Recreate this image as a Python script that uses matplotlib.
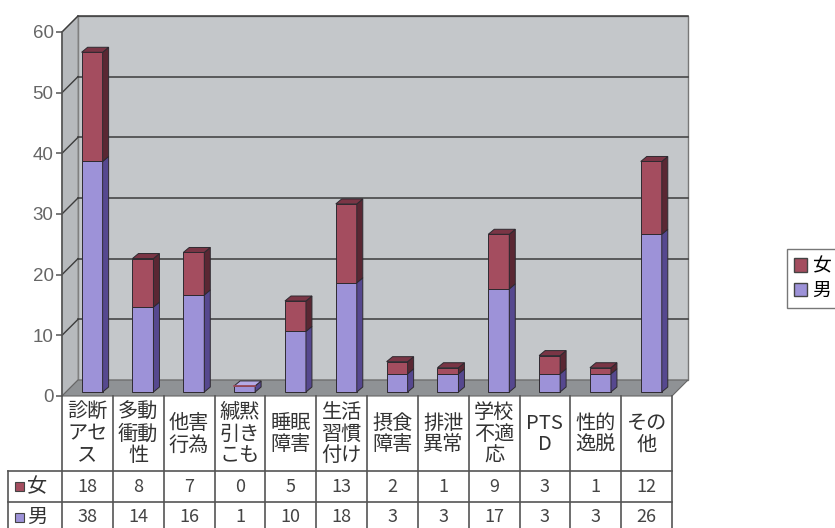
import matplotlib
matplotlib.use("Agg")
import matplotlib.pyplot as plt
from matplotlib.patches import Polygon, Rectangle, Patch

plt.rcParams['font.family'] = ['Noto Sans CJK JP', 'DejaVu Sans']

categories = ["診断\nアセ\nス", "多動\n衝動\n性", "他害\n行為", "緘黙\n引き\nこも", "睡眠\n障害",
              "生活\n習慣\n付け", "摂食\n障害", "排泄\n異常", "学校\n不適\n応", "PTS\nD", "性的\n逸脱", "その\n他"]
female = [18, 8, 7, 0, 5, 13, 2, 1, 9, 3, 1, 12]
male = [38, 14, 16, 1, 10, 18, 3, 3, 17, 3, 3, 26]
series_names = ["女", "男"]
y_ticks = [0, 10, 20, 30, 40, 50, 60]

# colours: front / side / top
F_FRONT, F_SIDE, F_TOP = "#a44d5f", "#5a2733", "#7a3545"
M_FRONT, M_SIDE, M_TOP = "#9d92d8", "#56488f", "#b4aae6"
WALL, SIDE_WALL, FLOOR = "#c4c7ca", "#b7babd", "#8f9295"
EDGE = "#2e2a30"

W, H = 835, 528
fig = plt.figure(figsize=(W / 100, H / 100), dpi=100)

# plot area in pixels: front axis x 62..672, value 0 at y=396, 60 at y=32
x0, x1, ytop, ybot = 62, 672, 32, 396
ax = fig.add_axes([x0 / W, 1 - ybot / H, (x1 - x0) / W, (ybot - ytop) / H])
n = len(categories)
ax.set_xlim(-0.5, n - 0.5)
ax.set_ylim(0, 60)
ux = (x1 - x0) / n            # px per category
uy = (ybot - ytop) / 60       # px per unit

# depth of the box, bar offsets and bar geometry in data units
dx, dy = 16 / ux, 16 / uy
ox, oy = 4.7 / ux, 4 / uy
bw = 21 / ux
bdx, bdy = 6 / ux, 5 / uy

xl, xr = -0.5, n - 0.5
# back wall, side wall, floor
ax.add_patch(Polygon([(xl + dx, dy), (xr + dx, dy), (xr + dx, 60 + dy), (xl + dx, 60 + dy)],
                     closed=True, facecolor=WALL, edgecolor="#777", lw=1, clip_on=False, zorder=0))
ax.add_patch(Polygon([(xl, 0), (xl + dx, dy), (xl + dx, 60 + dy), (xl, 60)],
                     closed=True, facecolor=SIDE_WALL, edgecolor="#888", lw=0.8, clip_on=False, zorder=0))
ax.add_patch(Polygon([(xl, 0), (xr, 0), (xr + dx, dy), (xl + dx, dy)],
                     closed=True, facecolor=FLOOR, edgecolor="#666", lw=0.8, clip_on=False, zorder=1))

# gridlines on back wall and side wall
for t in y_ticks[1:]:
    ax.plot([xl + dx, xr + dx], [t + dy, t + dy], color="#3c3c3c", lw=1.1, clip_on=False, zorder=1)
    ax.plot([xl, xl + dx], [t, t + dy], color="#3c3c3c", lw=1.0, clip_on=False, zorder=1)

# stacked 3D-style bars
xs = [i + ox for i in range(n)]
ax.bar(xs, male, width=bw, bottom=oy, color=M_FRONT, edgecolor=EDGE, lw=0.7, zorder=3)
ax.bar(xs, female, width=bw, bottom=[oy + m for m in male], color=F_FRONT, edgecolor=EDGE, lw=0.7, zorder=3)
for i in range(n):
    left, right = xs[i] - bw / 2, xs[i] + bw / 2
    b0 = oy
    for val, side in ((male[i], M_SIDE), (female[i], F_SIDE)):
        b1 = b0 + val
        if val > 0:
            ax.add_patch(Polygon([(right, b0), (right + bdx, b0 + bdy), (right + bdx, b1 + bdy), (right, b1)],
                                 closed=True, facecolor=side, edgecolor=EDGE, lw=0.7, zorder=3))
        b0 = b1
    top_col = F_TOP if female[i] > 0 else M_TOP
    ax.add_patch(Polygon([(left, b0), (right, b0), (right + bdx, b0 + bdy), (left + bdx, b0 + bdy)],
                         closed=True, facecolor=top_col, edgecolor=EDGE, lw=0.7, zorder=3))
    if female[i] == 0:
        ax.plot([left, right], [b0 - 0.05, b0 - 0.05], color=F_FRONT, lw=1.2, zorder=4)

for s in ("top", "right", "bottom"):
    ax.spines[s].set_visible(False)
ax.spines["left"].set_color("#555")
ax.spines["left"].set_linewidth(1.2)
ax.set_xticks([])
ax.set_yticks(y_ticks)
ax.tick_params(axis="y", direction="out", length=4, width=1.1, color="#555", pad=2,
               labelsize=13.5, labelcolor="#666")
for lab in ax.get_yticklabels():
    lab.set_family("Liberation Sans")
ax.patch.set_visible(False)

# legend
handles = [Patch(facecolor=F_FRONT, edgecolor="#444"), Patch(facecolor=M_FRONT, edgecolor="#444")]
fig.legend(handles, series_names, loc="upper left", bbox_to_anchor=(787 / W, 1 - 249 / H),
           fontsize=13.5, frameon=True, fancybox=False, edgecolor="#555", handlelength=0.7,
           handleheight=0.7, handletextpad=0.3, borderpad=0.35, labelspacing=0.2, borderaxespad=0)

# data table below the plot
lab_w = 54 / ux
tab = fig.add_axes([8 / W, 1 - 532 / H, (x1 - 8) / W, 136 / H])
tab.set_xlim(xl - lab_w, xr)
tab.set_ylim(136, 0)
tab.axis("off")
lc, lw = "#555", 1.2
for k in range(n + 1):
    tab.plot([xl + k, xl + k], [0, 136], color=lc, lw=lw, clip_on=False)
tab.plot([xl - lab_w, xl - lab_w], [75, 136], color=lc, lw=lw, clip_on=False)
for yy in (75, 106, 136):
    tab.plot([xl - lab_w, xr], [yy, yy], color=lc, lw=lw, clip_on=False)

for i, name in enumerate(categories):
    tab.text(i, 38, name, ha="center", va="center", fontsize=14.5, linespacing=1.05, color="#333")
    tab.text(i, 90.5, str(female[i]), ha="center", va="center", fontsize=13, color="#444")
    tab.text(i, 121, str(male[i]), ha="center", va="center", fontsize=13, color="#444")

for yy, col, name in ((90.5, F_FRONT, series_names[0]), (121, M_FRONT, series_names[1])):
    sq = 9 / ux
    tab.add_patch(Rectangle((xl - lab_w + 7 / ux, yy - 4.5), sq, 9, facecolor=col, edgecolor="#444", lw=0.8))
    tab.text(xl - lab_w + 19 / ux, yy, name, ha="left", va="center", fontsize=14.5, color="#333")

fig.savefig("out.png", dpi=100, facecolor="white")
